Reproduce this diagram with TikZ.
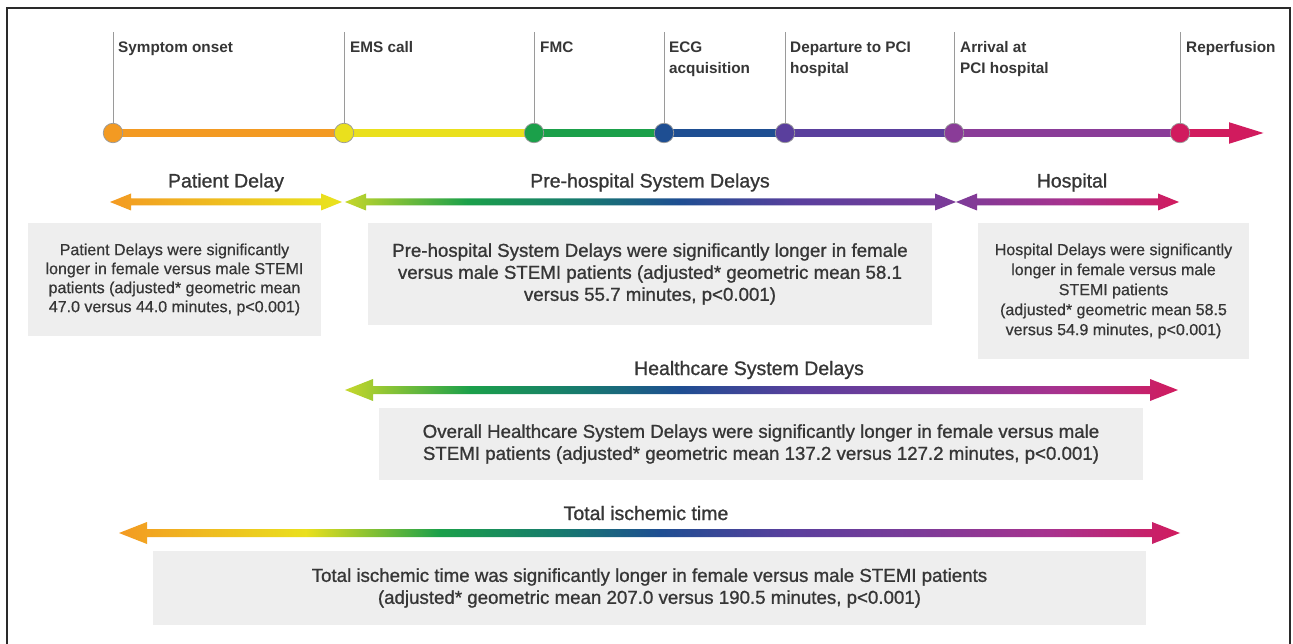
\documentclass[tikz,border=0pt]{standalone}
\usepackage{fontspec}
\setmainfont{Liberation Sans}
\newfontfamily\medfont[FakeBold=1.0]{Liberation Sans}
\newfontfamily\smfont[FakeBold=0.6]{Liberation Sans}
\usetikzlibrary{arrows.meta}

\definecolor{txt}{HTML}{363636}
\definecolor{boxfill}{HTML}{EEEEEE}
\definecolor{framec}{HTML}{2A2A2A}
\definecolor{tickc}{HTML}{9A9A9A}
% timeline colours
\definecolor{cOr}{HTML}{F39A22}
\definecolor{cYe}{HTML}{EAE01D}
\definecolor{cYG}{HTML}{C6D72B}
\definecolor{cGr}{HTML}{1BA04A}
\definecolor{cTe}{HTML}{177A6E}
\definecolor{cBl}{HTML}{1E4E92}
\definecolor{cBP}{HTML}{5A3F9D}
\definecolor{cPu}{HTML}{7C3B98}
\definecolor{cPm}{HTML}{8A3C98}
\definecolor{cMa}{HTML}{A8328E}
\definecolor{cCr}{HTML}{D11B5E}

\pgfdeclarehorizontalshading{shPatient}{100bp}{color(0bp)=(cOr); color(25bp)=(cOr); color(72bp)=(cYe); color(75bp)=(cYe); color(100bp)=(cYe)}
\pgfdeclarehorizontalshading{shPre}{100bp}{color(0bp)=(cYG); color(25bp)=(cYG); color(35bp)=(cGr); color(44bp)=(cTe); color(52.4bp)=(cBl); color(62.2bp)=(cBP); color(75bp)=(cPu); color(100bp)=(cPu)}
\pgfdeclarehorizontalshading{shHosp}{100bp}{color(0bp)=(cPu); color(25bp)=(cPu); color(50.6bp)=(cMa); color(75bp)=(cCr); color(100bp)=(cCr)}
\pgfdeclarehorizontalshading{shHC}{100bp}{color(0bp)=(cYG); color(25bp)=(cYG); color(32.5bp)=(cGr); color(39.1bp)=(cTe); color(45.1bp)=(cBl); color(52.3bp)=(cBP); color(60.2bp)=(cPu); color(68bp)=(cMa); color(75bp)=(cCr); color(100bp)=(cCr)}
\pgfdeclarehorizontalshading{shTotal}{100bp}{color(0bp)=(cOr); color(25bp)=(cOr); color(33.8bp)=(cYe); color(40.1bp)=(cGr); color(45.8bp)=(cTe); color(50.5bp)=(cBl); color(56.6bp)=(cBP); color(62.7bp)=(cPu); color(68.9bp)=(cMa); color(75bp)=(cCr); color(100bp)=(cCr)}

% #1 shading, #2 x left tip, #3 x right tip, #4 y, #5 half shaft, #6 head length, #7 head half height
\newcommand{\gradarrow}[7]{%
  \shade[shading=#1] (#2,#4) -- ({#2+#6},{#4-#7}) -- ({#2+#6},{#4-#5}) -- ({#3-#6},{#4-#5})
    -- ({#3-#6},{#4-#7}) -- (#3,#4) -- ({#3-#6},{#4+#7}) -- ({#3-#6},{#4+#5})
    -- ({#2+#6},{#4+#5}) -- ({#2+#6},{#4+#7}) -- cycle;}

\begin{document}
\begin{tikzpicture}[x=1pt,y=-1pt,
  dot/.style={circle, minimum size=19.5pt, inner sep=0pt, draw=tickc, line width=0.7pt},
  seg/.style={line width=7.5pt},
  tick/.style={draw=tickc, line width=0.9pt},
  tlabel/.style={anchor=north west, inner sep=0pt, align=left, text=txt,
    font=\bfseries\fontsize{15.3}{21}\selectfont},
  rowlabel/.style={anchor=base, inner sep=0pt, text=txt,
    font=\medfont\fontsize{19.5}{23}\selectfont},
  box/.style={fill=boxfill, inner sep=0pt, align=center, text=txt},
  smallbox/.style={box, font=\smfont\fontsize{16}{19}\selectfont},
  bigbox/.style={box, font=\medfont\fontsize{18.7}{22}\selectfont}]
\useasboundingbox (0,0) rectangle (1293,644);
\fill[white] (0,0) rectangle (1293,644);
% frame
\draw[framec, line width=2pt] (7,650) -- (7,8) -- (1290,8) -- (1290,650);

% timeline points
\coordinate (p1) at (113,133);
\coordinate (p2) at (344,133);
\coordinate (p3) at (534,133);
\coordinate (p4) at (664,133);
\coordinate (p5) at (785,133);
\coordinate (p6) at (954,133);
\coordinate (p7) at (1180,133);
\coordinate (pend) at (1266,133);

% ticks
\foreach \p in {p1,p2,p3,p4,p5,p6,p7} { \draw[tick] (\p) -- (\p |- 0,32); }

% segments
\draw[seg, cOr] (p1) -- (p2);
\draw[seg, cYe] (p2) -- (p3);
\draw[seg, cGr] (p3) -- (p4);
\draw[seg, cBl] (p4) -- (p5);
\draw[seg, cBP] (p5) -- (p6);
\draw[seg, cPm] (p6) -- (p7);
\draw[seg, cCr, -{Triangle[length=37pt,width=19pt]}] (p7) -- (pend);

% dots
\node[dot, fill=cOr] (d1) at (p1) {};
\node[dot, fill=cYe] (d2) at (p2) {};
\node[dot, fill=cGr] (d3) at (p3) {};
\node[dot, fill=cBl] (d4) at (p4) {};
\node[dot, fill=cBP] (d5) at (p5) {};
\node[dot, fill=cPm] (d6) at (p6) {};
\node[dot, fill=cCr] (d7) at (p7) {};

% timeline labels
\node[tlabel] (l1) at (118,41.5) {Symptom onset};
\node[tlabel] (l2) at (350,41.5) {EMS call};
\node[tlabel] (l3) at (540,41.5) {FMC};
\node[tlabel] (l4) at (669,41.5) {ECG\\acquisition};
\node[tlabel] (l5) at (790,41.5) {Departure to PCI\\hospital};
\node[tlabel] (l6) at (960,41.5) {Arrival at\\PCI hospital};
\node[tlabel] (l7) at (1186,41.5) {Reperfusion};

% row 2
\node[rowlabel] (r1) at (226,187.5) {Patient Delay};
\node[rowlabel] (r2) at (650,187.5) {Pre-hospital System Delays};
\node[rowlabel] (r3) at (1072,187.5) {Hospital};
\gradarrow{shPatient}{110}{342}{202}{3.5}{21}{8.5}
\gradarrow{shPre}{345}{956}{202}{3.5}{21}{8.5}
\gradarrow{shHosp}{956}{1179}{202}{3.5}{21}{8.5}

\node[smallbox, minimum width=293pt, minimum height=113pt] (b1) at (174.5,279.5)
  {Patient Delays were significantly\\longer in female versus male STEMI\\patients (adjusted* geometric mean\\47.0 versus 44.0 minutes, p<0.001)};
\node[bigbox, minimum width=564pt, minimum height=102pt] (b2) at (650,274)
  {Pre-hospital System Delays were significantly longer in female\\versus male STEMI patients (adjusted* geometric mean 58.1\\versus 55.7 minutes, p<0.001)};
\node[smallbox, font=\smfont\fontsize{16}{20}\selectfont, minimum width=271pt, minimum height=136pt] (b3) at (1113.5,291)
  {Hospital Delays were significantly\\longer in female versus male\\STEMI patients\\(adjusted* geometric mean 58.5\\versus 54.9 minutes, p<0.001)};

% row 3
\node[rowlabel] (r4) at (749,375) {Healthcare System Delays};
\gradarrow{shHC}{345}{1178}{390}{4}{28}{11}
\node[bigbox, minimum width=764pt, minimum height=72pt] (b4) at (761,444)
  {Overall Healthcare System Delays were significantly longer in female versus male\\STEMI patients (adjusted* geometric mean 137.2 versus 127.2 minutes, p<0.001)};

% row 4
\node[rowlabel] (r5) at (646,520) {Total ischemic time};
\gradarrow{shTotal}{119}{1180}{533}{4}{28}{11}
\node[bigbox, minimum width=993pt, minimum height=74pt] (b5) at (649.5,588)
  {Total ischemic time was significantly longer in female versus male STEMI patients\\(adjusted* geometric mean 207.0 versus 190.5 minutes, p<0.001)};
\end{tikzpicture}
\end{document}
